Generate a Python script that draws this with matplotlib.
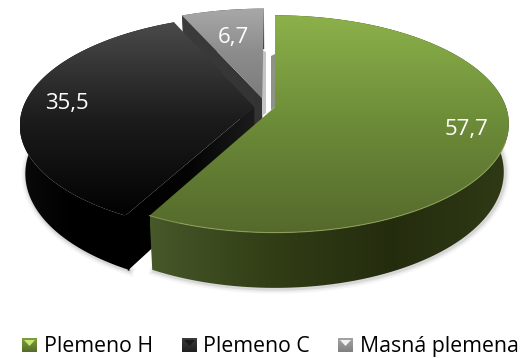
import matplotlib
matplotlib.use('Agg')
import matplotlib.pyplot as plt
import numpy as np
from matplotlib.colors import LinearSegmentedColormap
from matplotlib.patches import Polygon

categories = ['Plemeno H', 'Plemeno C', 'Masná plemena']
values = [57.7, 35.5, 6.7]
value_labels = ['57,7', '35,5', '6,7']

# how far each slice is pulled out of the pie, in disk units
offsets = [(0.0, 0.0), (-0.09, 0.0), (-0.056, 0.085)]
label_pos = [(467, 130), (67, 104), (233, 37)]

top_stops = [['#8cb14a', '#6c8b38', '#55692c'],
             ['#4a4a4a', '#1c1c1c', '#020202'],
             ['#a8a8a8', '#8c8c8c', '#7c7c7c']]
wall_stops = [['#47582a', '#323e16', '#242c0e', '#2f3a15'],
              ['#0a0a0a', '#000000', '#000000', '#030303'],
              ['#555555', '#444444', '#333333', '#333333']]

# perspective of the disk: centre, radii and tilt for upper and lower plane
CX = 275
TILT = 0.156
UPPER = (107, 231, 106)
LOWER = (154, 226, 113)

plt.rcParams['font.family'] = ['Open Sans', 'DejaVu Sans']

fig = plt.figure(figsize=(5.25, 3.58), dpi=100)
ax = fig.add_axes([0, 0, 1, 1])


def project(x, y, plane):
    cy, rx, ry = plane
    w = 1 + TILT * y
    return CX + rx * x / w, cy - ry * y / w


def arc(a0, a1, off, plane):
    t = np.radians(np.linspace(a0, a1, 120))
    return np.column_stack(project(np.sin(t) + off[0], np.cos(t) + off[1], plane))


def fill(points, stops, horizontal=False, zorder=1):
    points = np.asarray(points)
    patch = Polygon(points, closed=True, fc='none', ec='none', zorder=zorder)
    ax.add_patch(patch)
    cmap = LinearSegmentedColormap.from_list('g', stops)
    grad = np.linspace(0, 1, 256)
    grad = grad[None, :] if horizontal else grad[:, None]
    x0, y0 = points.min(axis=0)
    x1, y1 = points.max(axis=0)
    extent = (x0, x1, y1, y0)
    im = ax.imshow(grad, cmap=cmap, extent=extent, aspect='auto', origin='upper',
                   vmin=0, vmax=1, zorder=zorder, interpolation='bilinear')
    im.set_clip_path(patch)


def side_by_side(a, b):
    return np.vstack([a, b[::-1]])


total = sum(values)
angles = np.cumsum([0] + values) / total * 360

# soft shadow under the front rim
for lw, alpha in [(7, 0.05), (4.5, 0.07), (2.5, 0.12)]:
    rim = arc(0, 207.7, offsets[0], LOWER)
    ax.plot(rim[40:, 0] + 1, rim[40:, 1] + 1, color='#555555', lw=lw, alpha=alpha, zorder=0.5)
    rim = arc(angles[1], angles[2], offsets[1], LOWER)
    ax.plot(rim[:70, 0] + 1, rim[:70, 1] + 1, color='#555555', lw=lw, alpha=alpha, zorder=0.5)

# slices go back to front: grey, black, green
for i in [2, 1, 0]:
    a0, a1 = angles[i], angles[i + 1]
    off = offsets[i]
    z = 3 - i

    upper = arc(a0, a1, off, UPPER)
    lower = arc(a0, a1, off, LOWER)
    apex_u = np.array(project(off[0], off[1], UPPER))
    apex_l = np.array(project(off[0], off[1], LOWER))

    # outer rim wall
    fill(side_by_side(upper, lower), wall_stops[i], horizontal=True, zorder=z)

    # cut faces that can be seen from the front
    face = np.array([apex_u, upper[0], lower[0], apex_l])
    if i == 1:
        fill(face, ['#000000', '#040404', '#1c1c1c'], horizontal=True, zorder=z + 0.1)
        # closes the seam between rim wall and cut face
        ax.plot([upper[0, 0], lower[0, 0]], [upper[0, 1], lower[0, 1]], color='black', lw=1.2,
                zorder=z + 0.15)
    if i == 2:
        fill(face, ['#3c3c3c', '#333333'], horizontal=True, zorder=z + 0.1)
        # thin pale wall on the right of the grey slice
        ax.add_patch(Polygon([(262, 50), (266, 52), (266, 113), (262, 116)], closed=True,
                             fc='#c4c4c4', ec='none', zorder=z + 0.1))
    if i == 0:
        ax.add_patch(Polygon([(271, 56), (275, 54), (275, 107), (271, 110)], closed=True,
                             fc='#8e9485', ec='none', zorder=z - 0.5))

    # top face
    fill(np.vstack([apex_u, upper]), top_stops[i], zorder=z + 0.2)

    ax.text(label_pos[i][0], label_pos[i][1], value_labels[i], color='white', fontsize=16,
            ha='center', va='center', zorder=6)

# light edge on the front of the green slice
rim = arc(angles[0], angles[1], offsets[0], UPPER)
ax.plot(rim[62:, 0], rim[62:, 1], color='#8fa65a', lw=0.8, alpha=0.8, zorder=3.4)

# legend keys: small bevelled squares
key_x = [22, 182, 338]
text_x = [44, 203, 360]
key_colors = [('#c6e576', '#7f9f3f', '#556c27'),
              ('#1a1a1a', '#3c3c3c', '#1e1e1e'),
              ('#f0f0f0', '#a4a4a4', '#808080')]
for name, kx, tx, kc in zip(categories, key_x, text_x, key_colors):
    y0, y1, s = 338, 352, 15
    mx, my = kx + s / 2, (y0 + y1) / 2
    fill([(kx, y0), (kx + s, y0), (kx + s, y1), (kx, y1)], [kc[1], kc[2]], zorder=5)
    ax.add_patch(Polygon([(kx + 2, y0 + 2), (kx + s - 2, y0 + 2), (mx, my + 1)], closed=True,
                         fc=kc[0], ec='none', zorder=5.2))
    ax.text(tx, 352, name, color='black', fontsize=15.3, ha='left', va='baseline', zorder=6)

ax.set_xlim(0, 525)
ax.set_ylim(358, 0)
ax.axis('off')

fig.savefig('out.png', dpi=100)
